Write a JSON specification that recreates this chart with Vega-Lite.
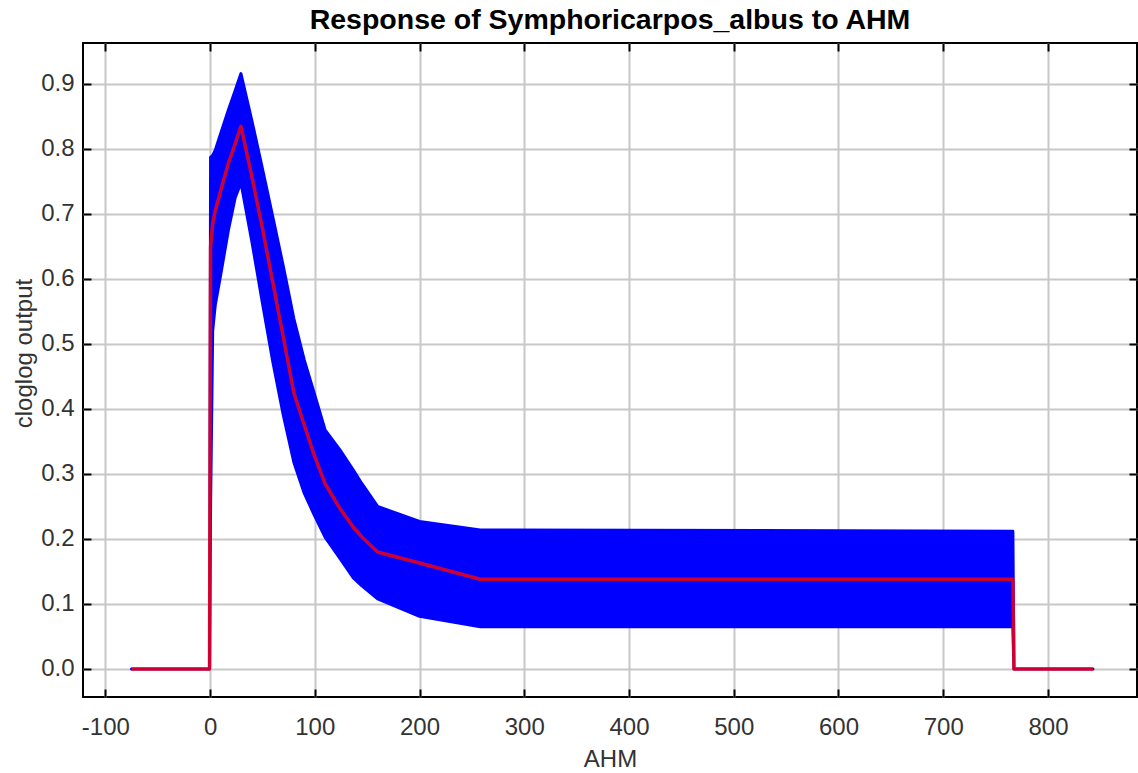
{
  "$schema": "https://vega.github.io/schema/vega-lite/v6.json",
  "width": 1054,
  "height": 654,
  "autosize": {"type": "none"},
  "padding": {"left": 83, "top": 43, "right": 1, "bottom": 76},
  "background": "white",
  "title": {
    "text": "Response of Symphoricarpos_albus to AHM",
    "font": "Liberation Sans",
    "fontSize": 28.5,
    "fontWeight": "bold",
    "color": "#000000",
    "anchor": "middle",
    "offset": 8
  },
  "config": {
    "view": {"stroke": "#000000", "strokeWidth": 2},
    "axis": {
      "labelFont": "Liberation Sans",
      "labelFontSize": 24,
      "labelColor": "#333333",
      "titleFont": "Liberation Sans",
      "titleFontSize": 24,
      "titleFontWeight": "normal",
      "titleColor": "#333333",
      "domain": false,
      "tickColor": "#000000",
      "tickWidth": 2,
      "tickSize": -8,
      "gridColor": "#c8c8c8",
      "gridWidth": 2
    }
  },
  "data": {
    "values": [
      {"x": -75, "lo": 0, "hi": 0, "m": 0},
      {"x": -0.5, "lo": 0, "hi": 0, "m": 0},
      {"x": 0.5, "lo": 0.25, "hi": 0.787, "m": 0.65},
      {"x": 2.5, "lo": 0.52, "hi": 0.79, "m": 0.685},
      {"x": 5, "lo": 0.56, "hi": 0.798, "m": 0.705},
      {"x": 10, "lo": 0.605, "hi": 0.823, "m": 0.735},
      {"x": 17.5, "lo": 0.675, "hi": 0.86, "m": 0.778},
      {"x": 24, "lo": 0.725, "hi": 0.89, "m": 0.808},
      {"x": 29.5, "lo": 0.748, "hi": 0.916, "m": 0.835},
      {"x": 40, "lo": 0.657, "hi": 0.843, "m": 0.757},
      {"x": 50, "lo": 0.563, "hi": 0.77, "m": 0.678},
      {"x": 60, "lo": 0.472, "hi": 0.695, "m": 0.594},
      {"x": 70, "lo": 0.39, "hi": 0.619, "m": 0.51},
      {"x": 80, "lo": 0.318, "hi": 0.539, "m": 0.425},
      {"x": 90, "lo": 0.27, "hi": 0.475, "m": 0.375},
      {"x": 98.6, "lo": 0.24, "hi": 0.429, "m": 0.333},
      {"x": 109.8, "lo": 0.203, "hi": 0.368, "m": 0.285},
      {"x": 124, "lo": 0.17, "hi": 0.337, "m": 0.247},
      {"x": 136.8, "lo": 0.14, "hi": 0.306, "m": 0.218},
      {"x": 145, "lo": 0.128, "hi": 0.285, "m": 0.203},
      {"x": 160, "lo": 0.108, "hi": 0.25, "m": 0.18},
      {"x": 200, "lo": 0.081, "hi": 0.227, "m": 0.163},
      {"x": 258, "lo": 0.065, "hi": 0.214, "m": 0.138},
      {"x": 766.5, "lo": 0.065, "hi": 0.212, "m": 0.138},
      {"x": 767.5, "lo": 0, "hi": 0, "m": 0},
      {"x": 843, "lo": 0, "hi": 0, "m": 0}
    ]
  },
  "layer": [
    {
      "mark": {"type": "area", "color": "#0000ff", "stroke": "#0000ff", "strokeWidth": 3, "strokeJoin": "round"},
      "encoding": {
        "x": {
          "field": "x", "type": "quantitative",
          "scale": {"domain": [-121.3, 885], "nice": false, "zero": false},
          "axis": {"values": [-100, 0, 100, 200, 300, 400, 500, 600, 700, 800], "labelExpr": "replace(datum.label, '\u2212', '-')", "title": "AHM", "labelPadding": 26, "titleY": 69, "titleBaseline": "alphabetic", "grid": true}
        },
        "y": {
          "field": "hi", "type": "quantitative",
          "scale": {"domain": [-0.0431, 0.963], "nice": false, "zero": false},
          "axis": {"values": [0, 0.1, 0.2, 0.3, 0.4, 0.5, 0.6, 0.7, 0.8, 0.9], "format": ".1f", "title": "cloglog output", "labelPadding": 17, "titleX": -52, "titleY": 310, "titleBaseline": "alphabetic", "grid": true}
        },
        "y2": {"field": "lo"}
      }
    },
    {
      "mark": {"type": "line", "color": "#ff0000", "opacity": 0.8, "strokeWidth": 3.5, "strokeJoin": "round"},
      "encoding": {
        "x": {
          "field": "x", "type": "quantitative",
          "axis": {"orient": "top", "values": [-100, 0, 100, 200, 300, 400, 500, 600, 700, 800], "labels": false, "title": null, "grid": false}
        },
        "y": {
          "field": "m", "type": "quantitative",
          "axis": {"orient": "right", "values": [0, 0.1, 0.2, 0.3, 0.4, 0.5, 0.6, 0.7, 0.8, 0.9], "labels": false, "title": null, "grid": false}
        }
      }
    }
  ],
  "resolve": {"axis": {"x": "independent", "y": "independent"}}
}
